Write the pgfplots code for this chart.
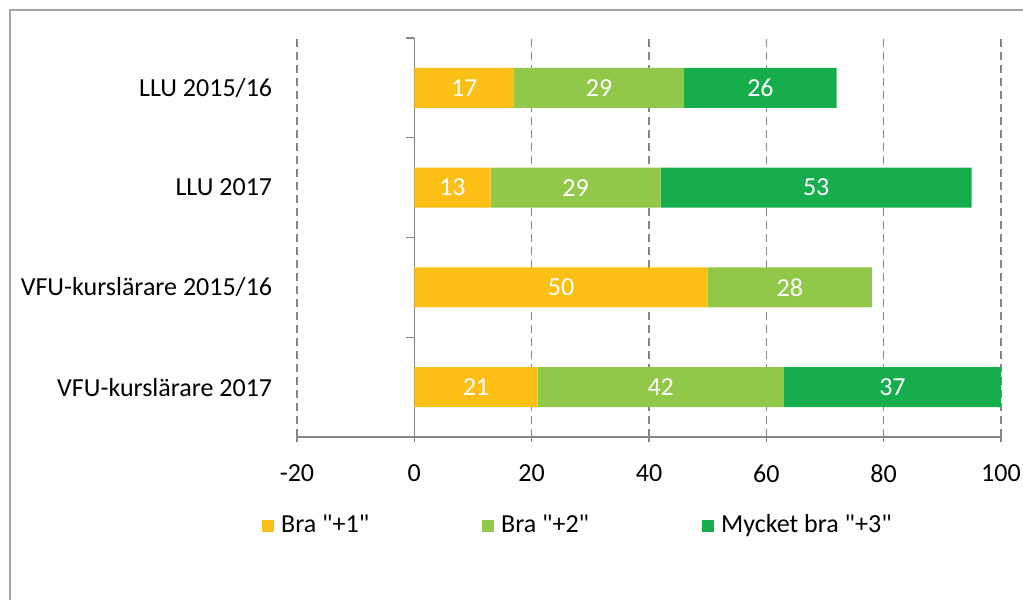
\documentclass[border=0pt]{standalone}
\usepackage{pgfplots}
\pgfplotsset{compat=1.18}
\usepackage{fontspec}
\setmainfont{Carlito}[Ligatures=TeXOff]
\definecolor{cOrange}{RGB}{252,191,22}
\definecolor{cLight}{RGB}{146,200,74}
\definecolor{cDark}{RGB}{22,174,77}
\definecolor{axgray}{RGB}{134,134,134}
\definecolor{framegray}{RGB}{165,165,165}
\newcommand{\chfont}{\fontsize{26bp}{31bp}\selectfont}
\begin{document}
\chfont
\begin{tikzpicture}
\useasboundingbox (-297bp,-163bp) rectangle (726bp,437bp);
\draw[framegray, line width=1.5bp] (-287bp,-220bp) -- (-287bp,427bp) -- (780bp,427bp);
\pgfplotsset{base/.style={
  scale only axis, width=704bp, height=399bp,
  xmin=-20, xmax=100, ymin=-0.5, ymax=3.5,
  at={(0,0)}, anchor=south west}}
\begin{axis}[base,
  xbar stacked, bar width=40bp,
  axis x line*=bottom, axis y line*=left,
  x axis line style={axgray, line width=1.5bp, -},
  y axis line style={draw=none},
  xmajorgrids, grid style={axgray, dash pattern=on 8bp off 5bp, line width=1.3bp},
  xtick={-20,0,20,40,60,80,100},
  xticklabels={-20,0,20,40,60,80,100},
  tick align=center, major tick length=10bp,
  xtick style={axgray, line width=1.3bp},
  ytick={0,1,2,3},
  yticklabels={VFU-kurslärare 2017, VFU-kurslärare 2015/16, LLU 2017, LLU 2015/16},
  ytick style={draw=none},
  tick label style={font=\chfont},
  yticklabel style={xshift=-11bp},
  xticklabel style={yshift=-14bp},
  legend columns=3,
  legend style={at={(axis description cs:-0.0497,-0.2226)}, anchor=west,
    draw=none, fill=none, inner sep=0pt, font=\chfont,
    nodes={inner sep=0pt},
    /tikz/every odd column/.append style={column sep=7bp},
    /tikz/every even column/.append style={column sep=113bp}},
  legend cell align=left,
  legend image code/.code={\path[#1] (0bp,-6bp) rectangle (12bp,6bp);},
]
\addplot[fill=cOrange, draw=none] coordinates {(21,0) (50,1) (13,2) (17,3)};
\addplot[fill=cLight, draw=none] coordinates {(42,0) (28,1) (29,2) (29,3)};
\addplot[fill=cDark, draw=none] coordinates {(37,0) (0,1) (53,2) (26,3)};
\legend{Bra "+1", Bra "+2", Mycket bra "+3"}
\draw[axgray, line width=1.5bp] (axis cs:0,-0.5) -- (axis cs:0,3.5);
\draw[axgray, line width=1.3bp] (axis cs:0,-0.5) -- ++(-8bp,0pt);
\draw[axgray, line width=1.3bp] (axis cs:0,0.5) -- ++(-8bp,0pt);
\draw[axgray, line width=1.3bp] (axis cs:0,1.5) -- ++(-8bp,0pt);
\draw[axgray, line width=1.3bp] (axis cs:0,2.5) -- ++(-8bp,0pt);
\draw[axgray, line width=1.3bp] (axis cs:0,3.5) -- ++(-8bp,0pt);
\end{axis}
\begin{axis}[base, hide axis, clip=false]
\addplot[only marks, mark=*, mark size=0pt, mark options={draw=none, fill=none},
  nodes near coords, point meta=explicit symbolic,
  every node near coord/.append style={anchor=center, text=white, font=\chfont}]
  table[meta=label] {
x y label
8.5 3 17
31.5 3 29
59 3 26
6.5 2 13
27.5 2 29
68.5 2 53
25 1 50
64 1 28
10.5 0 21
42 0 42
81.5 0 37
};
\end{axis}
\end{tikzpicture}
\end{document}
